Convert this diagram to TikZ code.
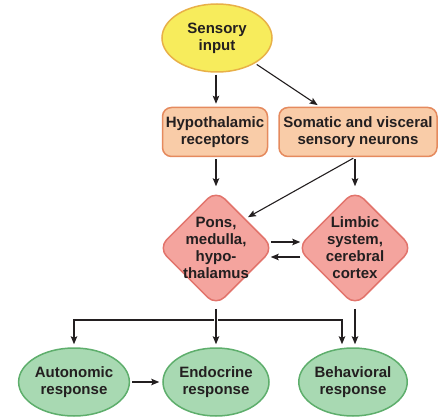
\documentclass[tikz,border=0pt]{standalone}
\usepackage{fontspec}
\setmainfont{Liberation Sans}
\usepackage{tikz}
\usetikzlibrary{shapes.geometric, arrows.meta, positioning, calc}

\definecolor{inputfill}{RGB}{247,236,92}
\definecolor{inputline}{RGB}{232,176,72}
\definecolor{recfill}{RGB}{249,204,168}
\definecolor{recline}{RGB}{229,138,94}
\definecolor{centfill}{RGB}{244,164,158}
\definecolor{centline}{RGB}{226,116,108}
\definecolor{respfill}{RGB}{168,217,178}
\definecolor{respline}{RGB}{94,174,108}
\definecolor{ink}{RGB}{35,31,32}

\begin{document}
\begin{tikzpicture}[x=1pt, y=-1pt,
    every node/.style={font=\fontsize{15}{17}\selectfont\bfseries, text=ink, align=center},
    stimulus/.style={ellipse, draw=inputline, fill=inputfill, line width=1.5pt, minimum width=110pt, minimum height=68pt, inner sep=0pt},
    receptor/.style={rectangle, rounded corners=9pt, draw=recline, fill=recfill, line width=1.5pt, minimum height=49pt, inner sep=2pt},
    center/.style={diamond, rounded corners=12pt, draw=centline, fill=centfill, line width=1.5pt, minimum size=116pt, inner sep=-5pt},
    response/.style={ellipse, draw=respline, fill=respfill, line width=1.5pt, minimum width=106pt, minimum height=68pt, inner sep=0pt},
    arr/.style={-{Stealth[length=8pt, width=6.5pt, inset=1.5pt]}, line width=1.1pt, ink, shorten >=3pt, shorten <=2pt}
]
\useasboundingbox (0,0) rectangle (439,417);

\node[stimulus] (input) at (217, 38) {Sensory\\input};
\node[receptor, minimum width=105pt] (hypo) at (215, 132) {Hypothalamic\\receptors};
\node[receptor, minimum width=158pt] (soma) at (358, 132) {Somatic and visceral\\sensory neurons};
\node[center] (pons) at (216, 248) {Pons,\\medulla,\\hypo-\\thalamus};
\node[center] (limbic) at (355, 248) {Limbic\\system,\\cerebral\\cortex};
\node[response] (auto) at (74, 382) {Autonomic\\response};
\node[response] (endo) at (216, 382) {Endocrine\\response};
\node[response] (behav) at (353, 382) {Behavioral\\response};
\coordinate (bus) at (216, 320);

\draw[arr] (input.south -| pons) -- (pons |- hypo.north);
\draw[arr] (input) -- (soma);
\draw[arr] (hypo.south -| pons) -- (pons.north);
\draw[arr] (limbic |- soma.south) -- (limbic.north);
\draw[arr] (limbic |- soma.south) -- (pons.north east);
\draw[arr, shorten >=0pt, shorten <=0pt] ($(pons.east)+(-4,-6)$) -- ($(limbic.west)+(4,-6)$);
\draw[arr, shorten >=0pt, shorten <=0pt] ($(limbic.west)+(4,9)$) -- ($(pons.east)+(-4,9)$);
\draw[arr] (pons.south) -- (pons.south |- endo.north);
\draw[arr] (bus) -| (auto.north);
\draw[arr] (bus) -| ([xshift=-11pt]behav.north);
\draw[arr] (limbic.south) -- (limbic.south |- behav.north);
\draw[arr] (auto) -- (endo);
\end{tikzpicture}
\end{document}
